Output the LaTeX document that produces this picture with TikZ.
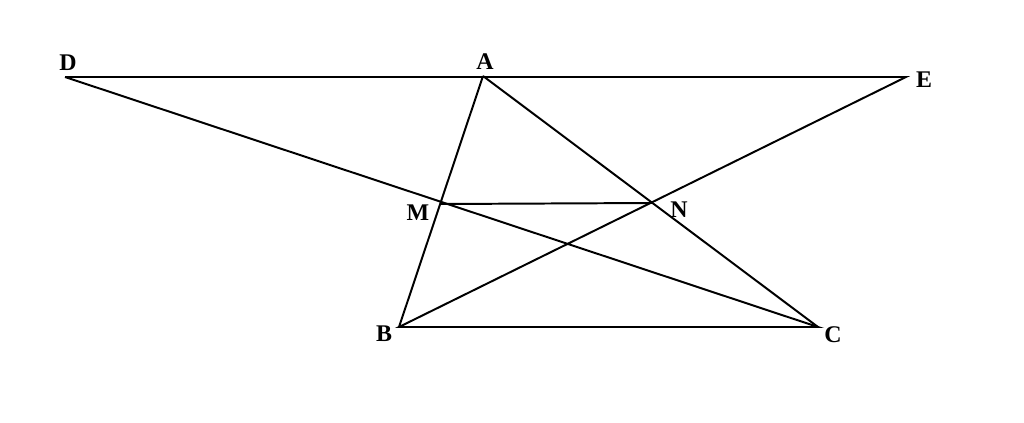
\documentclass[tikz,border=0pt]{standalone}
\usepackage{fontspec}
\setmainfont{Liberation Serif}
\begin{document}
\begin{tikzpicture}[x=0.025cm, y=-0.025cm, line width=1.4pt,
    lbl/.style={font=\fontsize{17}{20}\selectfont\bfseries}]
    \useasboundingbox (0, 0) rectangle (1024, 422);
    % points
    \coordinate (D) at (65, 77);
    \coordinate (A) at (483, 76);
    \coordinate (E) at (906, 77);
    \coordinate (M) at (441, 204);
    \coordinate (N) at (652, 203);
    \coordinate (B) at (399, 327);
    \coordinate (C) at (818, 327);

    \draw[] (D) -- (E) -- (B) -- (C) -- (D);
    \draw[] (A) -- (B);
    \draw[] (A) -- (C);
    \draw[] (M) -- (N);

    \node[lbl] (lD) at (68, 63) {D};
    \node[lbl] (lA) at (485, 62) {A};
    \node[lbl] (lE) at (924, 80) {E};
    \node[lbl] (lM) at (418, 213) {M};
    \node[lbl] (lN) at (679, 210) {N};
    \node[lbl] (lB) at (384, 334) {B};
    \node[lbl] (lC) at (833, 335) {C};
\end{tikzpicture}
\end{document}
